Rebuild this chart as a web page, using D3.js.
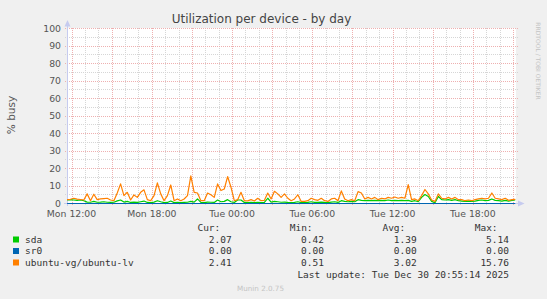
<!DOCTYPE html>
<meta charset="utf-8">
<title>Utilization per device - by day</title>
<style>
  body { margin: 0; background: #f0f0f0; }
  svg { display: block; font-family: 'DejaVu Sans', sans-serif; }
  .mono { font-family: 'DejaVu Sans Mono', monospace; }
</style>
<body>
<div id="chart"></div>
<script src="https://d3js.org/d3.v7.min.js"></script>
<script>

// samples every 15 minutes starting Mon 29 Dec 2025 11:40
var startTime = new Date(2025, 11, 29, 11, 40);
var stepMinutes = 15;

var sda = [2.0, 2.2, 2.0, 1.8, 2.0, 1.6, 0.8, 0.7, 1.2, 0.7,
  0.8, 1.0, 0.7, 0.6, 0.7, 1.5, 2.0, 0.8, 1.2, 0.6,
  0.8, 0.6, 1.0, 1.4, 0.6, 0.5, 0.8, 1.6, 1.0, 0.5,
  0.6, 1.4, 0.5, 0.6, 0.5, 0.6, 0.7, 1.2, 0.8, 2.6,
  0.6, 0.5, 0.8, 0.7, 0.6, 2.0, 1.0, 1.2, 2.2, 1.0,
  0.6, 2.0, 2.0, 0.6, 0.5, 0.6, 0.5, 0.7, 0.5, 0.6,
  3.0, 0.8, 1.2, 1.0, 0.7, 0.8, 0.6, 0.5, 0.6, 1.0,
  0.5, 0.5, 0.6, 1.0, 0.6, 0.6, 0.8, 0.6, 0.5, 0.8,
  1.0, 0.6, 1.6, 1.2, 1.0, 1.2, 1.0, 2.2, 1.8, 1.6,
  1.8, 1.6, 1.8, 1.6, 1.8, 1.6, 2.0, 1.6, 1.8, 1.6,
  1.8, 1.6, 1.8, 1.2, 1.6, 1.0, 3.5, 5.1, 4.0, 1.2,
  0.4, 4.0, 2.2, 2.0, 2.2, 1.8, 2.2, 1.6, 1.4, 1.2,
  1.4, 1.2, 1.4, 1.8, 2.0, 1.6, 1.8, 2.6, 1.8, 1.6,
  1.4, 1.8, 1.4, 1.8, 2.07];

var sr0 = [0, 0, 0, 0, 0, 0, 0, 0, 0, 0, 0, 0, 0, 0, 0, 0, 0, 0, 0, 0,
  0, 0, 0, 0, 0, 0, 0, 0, 0, 0, 0, 0, 0, 0, 0, 0, 0, 0, 0, 0,
  0, 0, 0, 0, 0, 0, 0, 0, 0, 0, 0, 0, 0, 0, 0, 0, 0, 0, 0, 0,
  0, 0, 0, 0, 0, 0, 0, 0, 0, 0, 0, 0, 0, 0, 0, 0, 0, 0, 0, 0,
  0, 0, 0, 0, 0, 0, 0, 0, 0, 0, 0, 0, 0, 0, 0, 0, 0, 0, 0, 0,
  0, 0, 0, 0, 0, 0, 0, 0, 0, 0, 0, 0, 0, 0, 0, 0, 0, 0, 0, 0,
  0, 0, 0, 0, 0, 0, 0, 0, 0, 0, 0, 0, 0, 0, 0];

var ubuntuLv = [2.2, 2.4, 3.0, 2.5, 2.3, 2.0, 5.5, 1.6, 5.3, 2.2,
  2.6, 2.8, 3.0, 2.0, 1.6, 6.0, 11.2, 4.5, 6.4, 2.0,
  4.9, 3.5, 6.4, 7.8, 2.2, 1.6, 4.5, 11.8, 5.5, 1.6,
  4.5, 10.6, 1.6, 2.6, 1.6, 2.6, 4.5, 15.76, 6.4, 6.0,
  1.6, 1.6, 6.0, 5.0, 3.5, 11.2, 7.4, 8.3, 15.4, 9.3,
  1.6, 2.2, 6.4, 1.6, 1.5, 2.2, 1.4, 3.0, 1.6, 1.8,
  6.0, 2.6, 7.0, 5.5, 3.5, 5.5, 3.0, 1.6, 2.6, 5.0,
  1.2, 1.2, 1.6, 3.0, 2.2, 1.8, 3.0, 1.6, 1.2, 2.6,
  3.0, 1.6, 7.2, 2.6, 1.6, 2.2, 1.6, 6.8, 6.0, 2.6,
  3.5, 2.6, 3.5, 2.2, 3.0, 2.6, 3.5, 3.0, 3.7, 3.0,
  3.5, 3.0, 10.8, 2.2, 2.6, 1.6, 4.5, 8.0, 5.5, 2.0,
  1.2, 5.5, 3.0, 2.6, 3.5, 2.6, 3.5, 2.2, 2.2, 1.6,
  2.0, 1.6, 2.2, 2.6, 3.0, 2.6, 3.0, 6.0, 3.0, 2.6,
  2.2, 3.0, 1.8, 2.2, 2.41];

var seriesNames = ["sda", "sr0", "ubuntu-vg/ubuntu-lv"];
var seriesColors = ["#00cc00", "#0066b3", "#ff8000"];
var curValues = ["2.07", "0.00", "2.41"];
var minValues = ["0.42", "0.00", "0.51"];
var avgValues = ["1.39", "0.00", "3.02"];
var maxValues = ["5.14", "0.00", "15.76"];
var yTicks = [0, 10, 20, 30, 40, 50, 60, 70, 80, 90, 100];

var width = 547, height = 299;

var svg = d3.select("#chart").append("svg")
  .attr("width", width)
  .attr("height", height);

svg.append("rect").attr("width", width).attr("height", height).attr("fill", "#f0f0f0");

// scales
var x = d3.scaleTime()
  .domain([new Date(2025, 11, 29, 11, 39, 40), new Date(2025, 11, 30, 21, 13, 20)])
  .range([67, 516]);
var y = d3.scaleLinear().domain([0, 100]).range([203.5, 28.5]);

// plot background
svg.append("rect")
  .attr("x", 67).attr("y", 28)
  .attr("width", 449).attr("height", 175)
  .attr("fill", "#ffffff");

var grid = svg.append("g");
var minorColor = "#d6d6d6", majorColor = "#eeb0b0";

// minor grid
var minorY = d3.range(5, 100, 10);
grid.selectAll("line.hminor").data(minorY).enter().append("line")
  .attr("x1", 65).attr("x2", 518)
  .attr("y1", function(d) { return Math.round(y(d) - 0.5) + 0.5; })
  .attr("y2", function(d) { return Math.round(y(d) - 0.5) + 0.5; })
  .attr("stroke", minorColor).attr("stroke-dasharray", "1,1");

var hourTicks = x.ticks(d3.timeHour.every(1)).filter(function(d) { return d.getHours() % 3 != 0; });
grid.selectAll("line.vminor").data(hourTicks).enter().append("line")
  .attr("x1", function(d) { return Math.round(x(d)) + 0.5; })
  .attr("x2", function(d) { return Math.round(x(d)) + 0.5; })
  .attr("y1", 28).attr("y2", 205)
  .attr("stroke", minorColor).attr("stroke-dasharray", "1,1");

// major grid
grid.selectAll("line.hmajor").data(yTicks.slice(1)).enter().append("line")
  .attr("x1", 65).attr("x2", 518)
  .attr("y1", function(d) { return Math.round(y(d) - 0.5) + 0.5; })
  .attr("y2", function(d) { return Math.round(y(d) - 0.5) + 0.5; })
  .attr("stroke", majorColor).attr("stroke-dasharray", "1,1");

var majorTicks = x.ticks(d3.timeHour.every(3));
grid.selectAll("line.vmajor").data(majorTicks).enter().append("line")
  .attr("x1", function(d) { return Math.round(x(d)) + 0.5; })
  .attr("x2", function(d) { return Math.round(x(d)) + 0.5; })
  .attr("y1", 28).attr("y2", 206)
  .attr("stroke", majorColor).attr("stroke-dasharray", "1,1");

// axes
var axisColor = "#c6cbef";
svg.append("line").attr("x1", 67.5).attr("x2", 67.5).attr("y1", 24).attr("y2", 206)
  .attr("stroke", axisColor);
svg.append("line").attr("x1", 64).attr("x2", 519).attr("y1", 203.5).attr("y2", 203.5)
  .attr("stroke", axisColor);
svg.append("path").attr("d", "M64.5,26.5 L67.5,20 L70.5,26.5 Z").attr("fill", axisColor);
svg.append("path").attr("d", "M518,200.5 L524.5,203.5 L518,206.5 Z").attr("fill", axisColor);

// tick labels
svg.append("g").selectAll("text").data(yTicks).enter().append("text")
  .attr("x", 61)
  .attr("y", function(d) { return y(d) + 3.2; })
  .attr("text-anchor", "end")
  .attr("font-size", "9.3px")
  .attr("fill", "#555")
  .text(function(d) { return d; });

var labelTicks = x.ticks(d3.timeHour.every(6));
svg.append("g").selectAll("text").data(labelTicks).enter().append("text")
  .attr("x", function(d) { return x(d); })
  .attr("y", 216.5)
  .attr("text-anchor", "middle")
  .attr("font-size", "9.3px")
  .attr("fill", "#555")
  .text(function(d) { return d3.timeFormat("%a %H:%M")(d); });

// lines
function timeAt(i) { return new Date(startTime.getTime() + i * stepMinutes * 60000); }
var line = d3.line()
  .x(function(d, i) { return x(timeAt(i)); })
  .y(function(d) { return y(d); });

[sda, sr0, ubuntuLv].forEach(function(values, k) {
  svg.append("path")
    .datum(values)
    .attr("d", line)
    .attr("fill", "none")
    .attr("stroke", seriesColors[k])
    .attr("stroke-width", 1.2)
    .attr("stroke-linejoin", "round");
});

// title and labels
svg.append("text").attr("x", 261.5).attr("y", 23)
  .attr("text-anchor", "middle").attr("font-size", "12px").attr("fill", "#444")
  .text("Utilization per device - by day");

svg.append("text")
  .attr("transform", "translate(15,115) rotate(-90)")
  .attr("text-anchor", "middle").attr("font-size", "10.5px").attr("fill", "#555")
  .text("% busy");

svg.append("text")
  .attr("transform", "translate(535.5,61) rotate(90)")
  .attr("text-anchor", "middle").attr("font-size", "6px").attr("fill", "#c4c4c4")
  .text("RRDTOOL / TOBI OETIKER");

// legend
var legend = svg.append("g").attr("class", "mono").attr("font-size", "9.5px").attr("fill", "#333");
var colEnds = [231.7, 324, 416.7, 509];
["Cur:", "Min:", "Avg:", "Max:"].forEach(function(h, c) {
  legend.append("text").attr("x", colEnds[c] - 11.4).attr("y", 231)
    .attr("text-anchor", "end").text(h);
});

var rows = legend.selectAll("g.row").data(seriesNames).enter().append("g")
  .attr("transform", function(d, i) { return "translate(0," + (242.5 + i * 11.5) + ")"; });
rows.append("rect").attr("x", 13).attr("y", -6).attr("width", 6).attr("height", 6)
  .attr("fill", function(d, i) { return seriesColors[i]; });
rows.append("text").attr("x", 25).text(function(d) { return d; });
[curValues, minValues, avgValues, maxValues].forEach(function(vals, c) {
  rows.append("text").attr("x", colEnds[c]).attr("text-anchor", "end")
    .text(function(d, i) { return vals[i]; });
});

legend.append("text").attr("x", 509).attr("y", 277.5).attr("text-anchor", "end")
  .text("Last update: Tue Dec 30 20:55:14 2025");

svg.append("text").attr("x", 260.5).attr("y", 290.5)
  .attr("text-anchor", "middle").attr("font-size", "7.2px").attr("fill", "#c4c4c4")
  .text("Munin 2.0.75");

</script>
</body>
